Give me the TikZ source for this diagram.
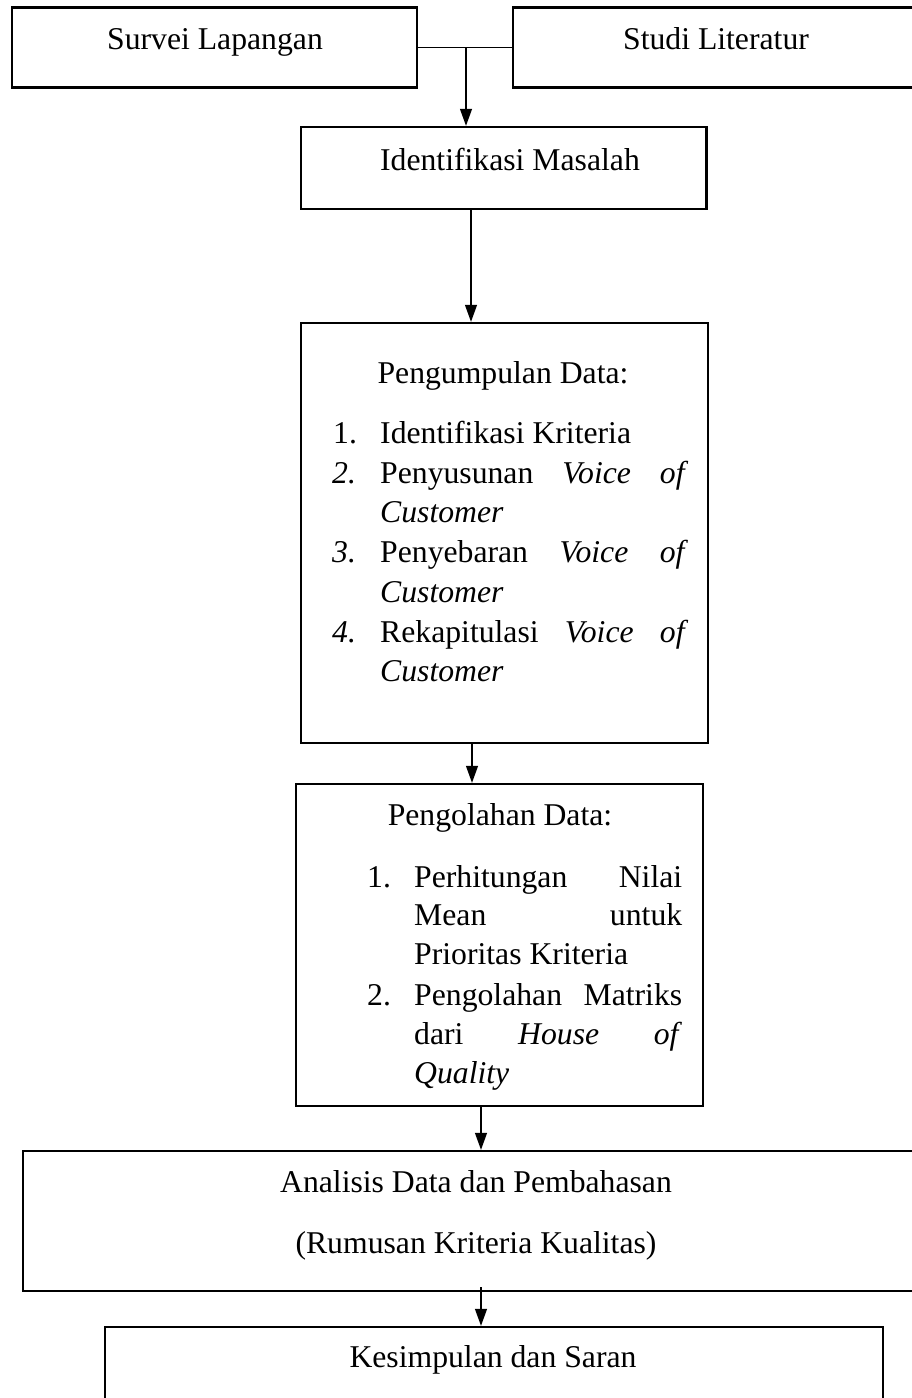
\documentclass[tikz,border=0pt]{standalone}
\usepackage{fontspec}
\setmainfont{Liberation Serif}
\usetikzlibrary{arrows.meta}
\tikzset{
  box/.style={draw, line width=2.4pt, inner sep=0pt, rectangle},
  txt/.style={inner sep=0pt, anchor=base},
  lst/.style={inner sep=0pt, anchor=base west},
  conn/.style={line width=1.2pt},
  arr/.style={line width=1.2pt, -{Triangle[length=17pt,width=12pt]}}
}
\begin{document}
\begin{tikzpicture}[x=1pt,y=-1pt,font=\fontsize{31.7pt}{39.7pt}\selectfont]
\fill[white] (0,0) rectangle (912,1398);
\useasboundingbox (0,0) rectangle (912,1398);
% boxes
\node[box, minimum width=405pt, minimum height=80pt] (sl) at (214.5,47.5) {};
\node[box, minimum width=412pt, minimum height=80pt] (st) at (719,47.5) {};
\node[box, minimum width=405.5pt, minimum height=82pt] (im) at (503.75,168) {};
\node[box, minimum width=407pt, minimum height=420pt] (pd) at (504.5,533) {};
\node[box, minimum width=407pt, minimum height=322pt] (po) at (499.5,945) {};
\node[box, minimum width=902pt, minimum height=140pt] (an) at (474,1221) {};
\node[box, minimum width=778pt, minimum height=93pt] (ks) at (494,1373.5) {};
% texts
\node[txt] (tsl) at (215,49) {Survei Lapangan};
\node[txt] (tst) at (716,49) {Studi Literatur};
\node[txt] (tim) at (510,170) {Identifikasi Masalah};
\node[txt] (tpd) at (503,383) {Pengumpulan Data:};
\node[lst] (n1) at (333,443) {1.};
\node[lst] (l1) at (380,443) {Identifikasi Kriteria};
\node[lst] (n2) at (332,483) {\textit{2.}};
\node[lst] (l2) at (380,483) {\makebox[308pt]{Penyusunan\hfill\textit{Voice}\hfill\textit{of}}};
\node[lst] (l3) at (380,522) {\textit{Customer}};
\node[lst] (n3) at (332,562) {\textit{3.}};
\node[lst] (l4) at (380,562) {\makebox[308pt]{Penyebaran\hfill\textit{Voice}\hfill\textit{of}}};
\node[lst] (l5) at (380,602) {\textit{Customer}};
\node[lst] (n4) at (332,642) {\textit{4.}};
\node[lst] (l6) at (380,642) {\makebox[308pt]{Rekapitulasi\hfill\textit{Voice}\hfill\textit{of}}};
\node[lst] (l7) at (380,681) {\textit{Customer}};
\node[txt] (tpo) at (500,825) {Pengolahan Data:};
\node[lst] (m1) at (367,887) {1.};
\node[lst] (k1) at (414,887) {\makebox[268pt]{Perhitungan\hfill Nilai}};
\node[lst] (k2) at (414,925) {\makebox[268pt]{Mean\hfill untuk}};
\node[lst] (k3) at (414,964) {Prioritas Kriteria};
\node[lst] (m2) at (367,1005) {2.};
\node[lst] (k4) at (414,1005) {\makebox[268pt]{Pengolahan\hfill Matriks}};
\node[lst] (k5) at (414,1044) {\makebox[268pt]{dari\hfill\textit{House}\hfill\textit{of}}};
\node[lst] (k6) at (414,1083) {\textit{Quality}};
\node[txt] (tan1) at (476,1192) {Analisis Data dan Pembahasan};
\node[txt] (tan2) at (476,1253) {(Rumusan Kriteria Kualitas)};
\node[txt] (tks) at (493,1367) {Kesimpulan dan Saran};
% connectors
\coordinate (j) at (466,47.5);
\coordinate (c1) at (471,0);
\coordinate (c2) at (472,0);
\coordinate (c3) at (481,0);
\coordinate (c4) at (481,1287);
\draw[conn] (sl.east) -- (st.west);
\draw[arr] (j) -- (j |- im.north);
\draw[arr] (c1 |- im.south) -- (c1 |- pd.north);
\draw[arr] (c2 |- pd.south) -- (c2 |- po.north);
\draw[arr] (c3 |- po.south) -- (c3 |- an.north);
\draw[arr] (c4) -- (c4 |- ks.north);
\end{tikzpicture}
\end{document}
